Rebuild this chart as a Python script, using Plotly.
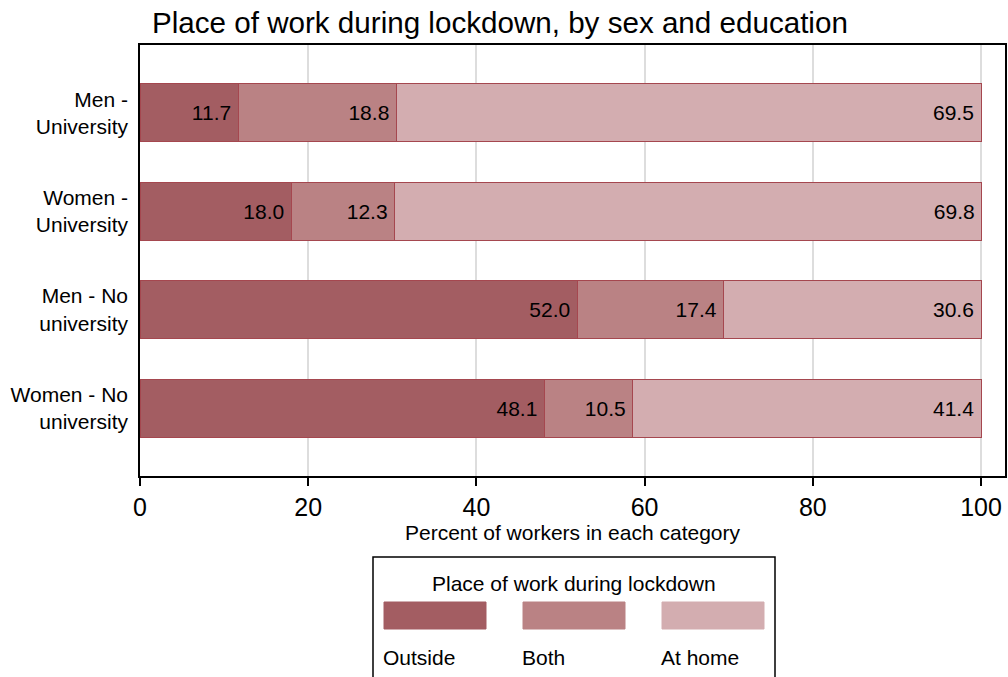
import plotly.graph_objects as go

categories = ["Men -<br>University", "Women -<br>University", "Men - No<br>university", "Women - No<br>university"]
outside = [11.7, 18.0, 52.0, 48.1]
both = [18.8, 12.3, 17.4, 10.5]
at_home = [69.5, 69.8, 30.6, 41.4]
series_names = ["Outside", "Both", "At home"]
colors = ["#A35D62", "#BA8284", "#D3ADB0"]
line_color = "#A5474F"
xticks = [0, 20, 40, 60, 80, 100]

fig = go.Figure()
for name, vals, col in zip(series_names, [outside, both, at_home], colors):
    fig.add_trace(go.Bar(
        y=categories, x=vals, name=name, orientation="h",
        marker=dict(color=col, line=dict(color=line_color, width=1)),
        width=0.59,
        text=[f"{v:.1f}&#8201;" for v in vals], textposition="inside",
        insidetextanchor="end",
        textfont=dict(size=21, color="black", family="Arial"),
        showlegend=False, cliponaxis=False,
    ))

W, H = 1008, 677
L, R, T, B = 140, 3, 45, 201
pw, ph = W - L - R, H - T - B

def px(x):  # pixel x -> paper
    return (x - L) / pw

def py(y):  # pixel y -> paper
    return (T + ph - y) / ph

fig.update_layout(
    barmode="stack",
    width=W, height=H,
    margin=dict(l=L, r=R, t=T, b=B, autoexpand=False),
    plot_bgcolor="white", paper_bgcolor="white",
    font=dict(family="Arial", color="black"),
    title=dict(text="Place of work during lockdown, by sex and education",
               x=152 / W, xanchor="left", y=1 - 23 / H, yanchor="middle",
               font=dict(size=29.6, color="black", family="Arial")),
    xaxis=dict(range=[0, 102.85], tickvals=xticks, ticks="outside", ticklen=8,
               tickwidth=1.5, tickcolor="black",
               showgrid=True, gridcolor="#DDDDDD", gridwidth=2,
               showline=True, linecolor="black", linewidth=1.5, mirror=True,
               zeroline=False, tickfont=dict(size=25),
               title=dict(text="Percent of workers in each category", font=dict(size=21), standoff=6)),
    yaxis=dict(categoryorder="array", categoryarray=categories,
               range=[3.69, -0.69], ticks="", showline=True, linecolor="black",
               linewidth=1.5, mirror=True, tickfont=dict(size=21), ticklabelstandoff=6),
    uniformtext=dict(minsize=21, mode="show"),
)

# legend box drawn manually (Stata-style: swatches with labels beneath)
shapes = [dict(type="rect", xref="paper", yref="paper",
               x0=px(373), x1=px(775), y0=py(700), y1=py(557),
               line=dict(color="black", width=1.5), fillcolor="white")]
annotations = [dict(xref="paper", yref="paper", x=px(574), y=py(583),
                    text="Place of work during lockdown", showarrow=False,
                    xanchor="center", yanchor="middle", font=dict(size=21))]
for i, (name, col) in enumerate(zip(series_names, colors)):
    x0 = 384 + i * 139
    shapes.append(dict(type="rect", xref="paper", yref="paper",
                       x0=px(x0), x1=px(x0 + 102), y0=py(629), y1=py(602),
                       fillcolor=col, line=dict(color=col, width=1)))
    annotations.append(dict(xref="paper", yref="paper", x=px(x0 - 3), y=py(657),
                            text=name, showarrow=False, xanchor="left",
                            yanchor="middle", font=dict(size=21)))
fig.update_layout(shapes=shapes, annotations=annotations)

fig.write_html("out.html", config={"displayModeBar": False},
               post_script="document.body.style.margin='0px';document.body.style.overflow='hidden';")
